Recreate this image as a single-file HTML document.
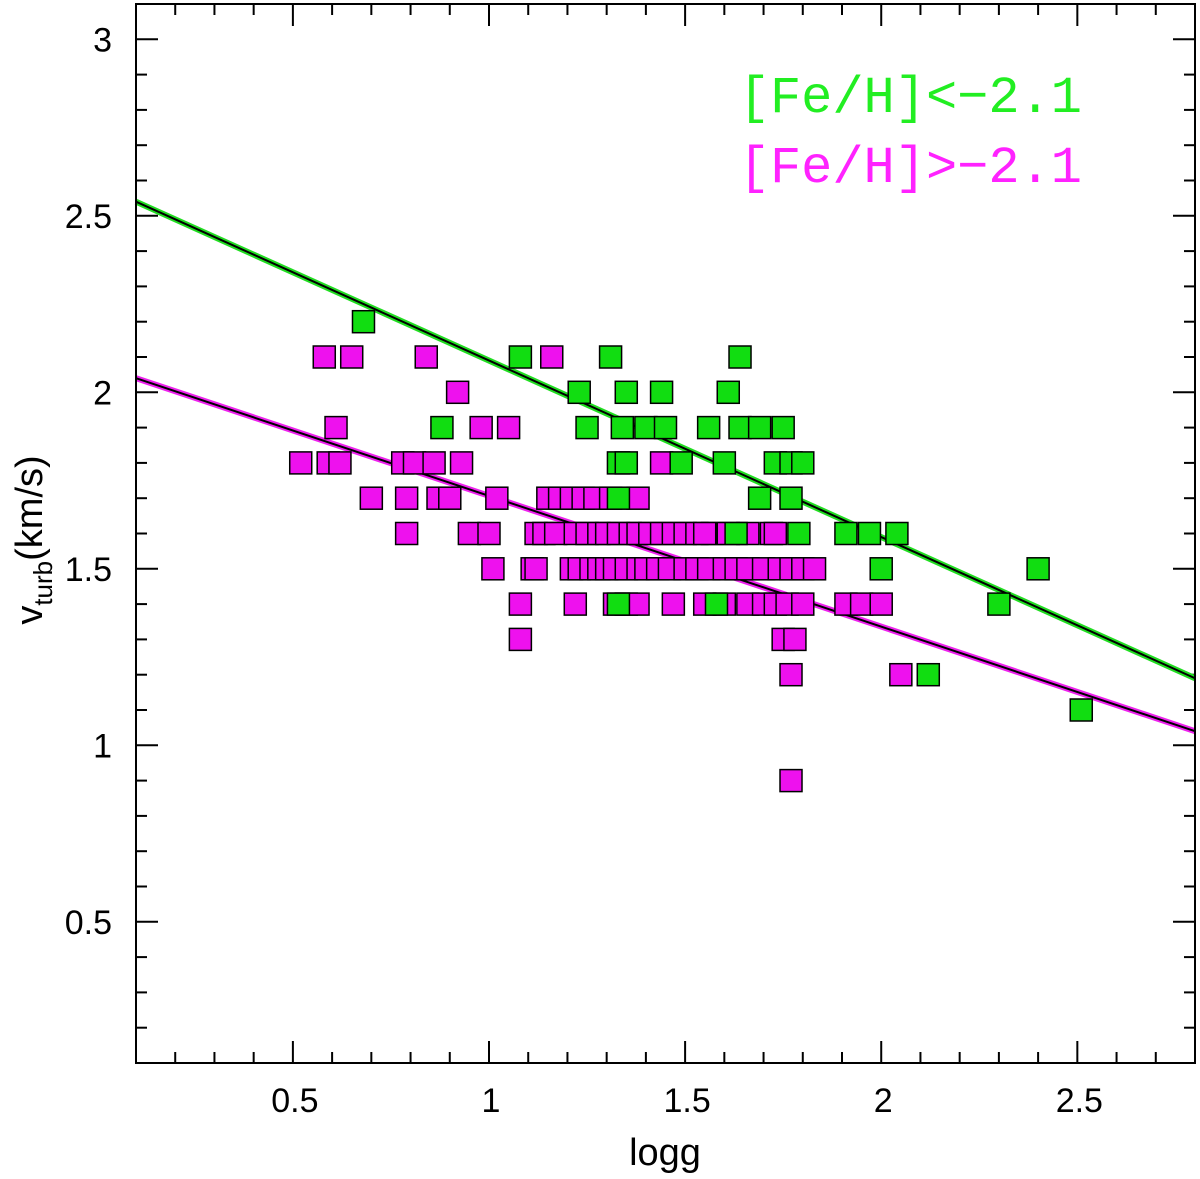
<!DOCTYPE html>
<html><head><meta charset="utf-8"><style>
body{margin:0;background:#fff;}
svg{display:block;font-family:"Liberation Sans",sans-serif;}
</style></head><body>
<svg id="chart" width="1200" height="1179">
<g id="ticks"></g>
<g id="lines"></g>
<g id="pts"></g>
<rect x="136" y="4" width="1059" height="1059" fill="none" stroke="#000" stroke-width="2"/>
<text x="665" y="1165" font-size="38" text-anchor="middle">logg</text>
<text transform="translate(42,540) rotate(-90)" font-size="38" text-anchor="middle">v<tspan font-size="26" dy="10">turb</tspan><tspan dy="-10">(km/s)</tspan></text>
<text x="1082" y="112" font-size="52" font-family="Liberation Mono, monospace" fill="#22ee22" text-anchor="end">[Fe/H]&lt;−2.1</text>
<text x="1082" y="182" font-size="52" font-family="Liberation Mono, monospace" fill="#ff22ff" text-anchor="end">[Fe/H]&gt;−2.1</text>
</svg>
<script>
const xTicks=[0.5,1,1.5,2,2.5];
const xTickLabels=["0.5","1","1.5","2","2.5"];
const yTicks=[0.5,1,1.5,2,2.5,3];
const yTickLabels=["0.5","1","1.5","2","2.5","3"];
const greenFit=[[0.1,2.54],[2.8,1.19]];
const magentaFit=[[0.1,2.04],[2.8,1.04]];
const magentaX=[0.52,0.59,0.62,0.58,0.65,0.61,0.70,0.84,0.78,0.81,0.86,0.79,0.79,0.87,0.90,0.92,0.93,0.95,0.98,1.0,1.02,1.01,1.05,1.08,1.08,1.16,1.11,1.12,
1.15,1.18,1.21,1.24,1.27,1.31,1.38,
1.14,1.17,1.22,1.25,1.28,1.30,1.33,1.36,1.38,1.41,1.44,1.47,1.50,1.53,1.57,1.61,1.66,1.72,
1.12,1.21,1.23,1.26,1.28,1.30,1.32,1.35,1.38,1.40,1.43,1.46,1.50,1.53,1.56,1.60,1.63,1.66,1.70,1.74,1.77,1.80,1.83,
1.22,1.32,1.35,1.38,1.47,1.55,1.60,1.66,1.70,1.73,1.76,1.80,1.91,1.95,2.0,
1.75,1.78,1.73,1.77,1.77,1.44,2.05,1.55];
const magentaY=[1.8,1.8,1.8,2.1,2.1,1.9,1.7,2.1,1.8,1.8,1.8,1.7,1.6,1.7,1.7,2.0,1.8,1.6,1.9,1.6,1.7,1.5,1.9,1.4,1.3,2.1,1.5,1.6,
1.7,1.7,1.7,1.7,1.7,1.7,1.7,
1.6,1.6,1.6,1.6,1.6,1.6,1.6,1.6,1.6,1.6,1.6,1.6,1.6,1.6,1.6,1.6,1.6,1.6,
1.5,1.5,1.5,1.5,1.5,1.5,1.5,1.5,1.5,1.5,1.5,1.5,1.5,1.5,1.5,1.5,1.5,1.5,1.5,1.5,1.5,1.5,1.5,
1.4,1.4,1.4,1.4,1.4,1.4,1.4,1.4,1.4,1.4,1.4,1.4,1.4,1.4,1.4,
1.3,1.3,1.6,1.2,0.9,1.8,1.2,1.6];
const greenX=[0.68,0.88,1.08,1.23,1.25,1.31,1.35,1.34,1.44,1.40,1.45,1.33,1.35,1.33,1.49,1.56,1.61,1.64,1.64,1.69,1.75,1.73,1.77,1.80,1.69,1.77,1.79,1.63,1.91,1.97,2.04,2.0,1.58,2.12,2.30,2.40,2.51,1.33,1.60];
const greenY=[2.2,1.9,2.1,2.0,1.9,2.1,2.0,1.9,2.0,1.9,1.9,1.8,1.8,1.7,1.8,1.9,2.0,2.1,1.9,1.9,1.9,1.8,1.8,1.8,1.7,1.7,1.6,1.6,1.6,1.6,1.6,1.5,1.4,1.2,1.4,1.5,1.1,1.4,1.8];
const NS="http://www.w3.org/2000/svg";
const X0=136,X1=1195,Y0=1063,Y1=4,xmin=0.1,xmax=2.8,ymin=0.1,ymax=3.1;
function sx(v){return X0+(v-xmin)/(xmax-xmin)*(X1-X0);}
function sy(v){return Y0-(v-ymin)/(ymax-ymin)*(Y0-Y1);}
function mk(t,a,p){const e=document.createElementNS(NS,t);for(const k in a)e.setAttribute(k,a[k]);p.appendChild(e);return e;}
const tg=document.getElementById('ticks');
for(let i=2;i<=27;i++){const v=i/10,x=sx(v),maj=(i%5===0);const L=maj?22:11;
 const a=mk('line',{x1:x,x2:x,y1:Y0,y2:Y0-L,stroke:'#000','stroke-width':2},tg);
 
 const b=mk('line',{x1:x,x2:x,y1:Y1,y2:Y1+L,stroke:'#000','stroke-width':2},tg);
 }
for(let i=2;i<=30;i++){const v=i/10,y=sy(v),maj=(i%5===0);const L=maj?22:11;
 const a=mk('line',{x1:X0,x2:X0+L,y1:y,y2:y,stroke:'#000','stroke-width':2},tg);
 
 const b=mk('line',{x1:X1,x2:X1-L,y1:y,y2:y,stroke:'#000','stroke-width':2},tg);
 }
xTicks.forEach((v,i)=>{const t=mk('text',{x:sx(v)+2,y:1112,'font-size':34,'text-anchor':'middle'},tg);t.textContent=xTickLabels[i];
 });
yTicks.forEach((v,i)=>{const t=mk('text',{x:112,y:sy(v)+12,'font-size':34,'text-anchor':'end'},tg);t.textContent=yTickLabels[i];
 });
const lg=document.getElementById('lines');
[[greenFit,'#22dd22','green-fit-line'],[magentaFit,'#ee22ee','magenta-fit-line']].forEach(([f,c,n])=>{
 const o=mk('line',{x1:sx(f[0][0]),y1:sy(f[0][1]),x2:sx(f[1][0]),y2:sy(f[1][1]),stroke:c,'stroke-width':6},lg);
 
 const k=mk('line',{x1:sx(f[0][0]),y1:sy(f[0][1]),x2:sx(f[1][0]),y2:sy(f[1][1]),stroke:'#000','stroke-width':2},lg);
 });
const pg=document.getElementById('pts');const S=22;
magentaX.forEach((v,i)=>{const r=mk('rect',{x:sx(v)-S/2,y:sy(magentaY[i])-S/2,width:S,height:S,fill:'#ee11ee',stroke:'#000','stroke-width':1.5},pg);
 });
greenX.forEach((v,i)=>{const r=mk('rect',{x:sx(v)-S/2,y:sy(greenY[i])-S/2,width:S,height:S,fill:'#11dd11',stroke:'#000','stroke-width':1.5},pg);
 });
</script>
</body></html>
